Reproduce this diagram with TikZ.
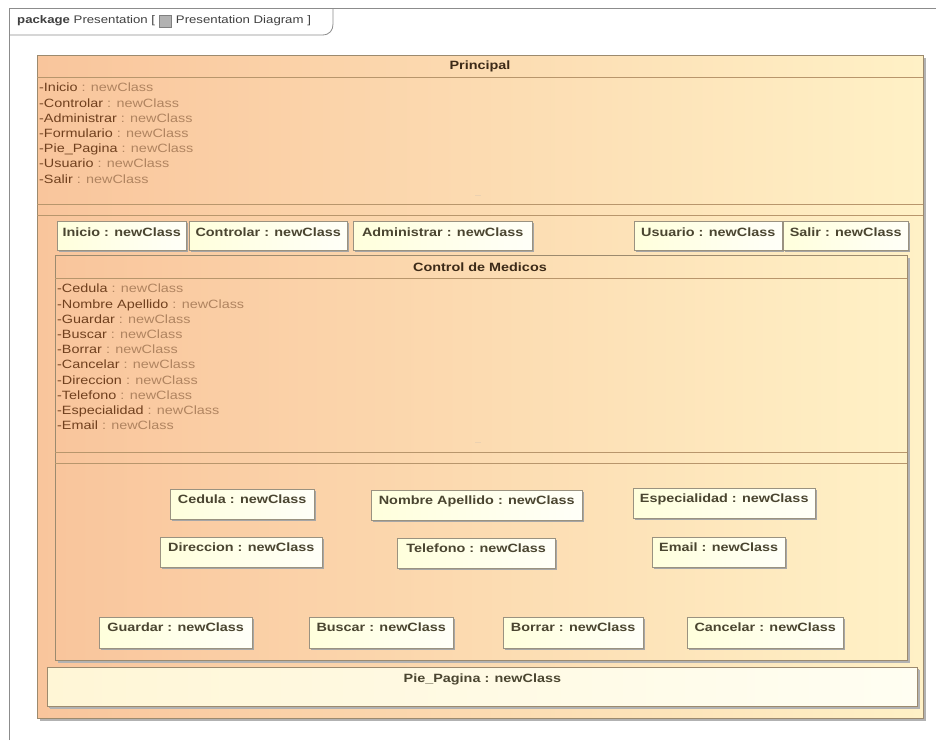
\documentclass[tikz,border=0pt]{standalone}
\usepackage{fontspec}
\setmainfont{Liberation Sans}[FakeStretch=1.2]
\usetikzlibrary{shadows,positioning}
\definecolor{peachL}{HTML}{F9C59C}
\definecolor{peachR}{HTML}{FFF1C6}
\definecolor{partL}{HTML}{FFFFDC}
\definecolor{partR}{HTML}{FFFFF8}
\definecolor{pieL}{HTML}{FFF6D6}
\definecolor{pieR}{HTML}{FFFEF2}
\definecolor{boxline}{HTML}{9C8A6E}
\definecolor{sepline}{HTML}{B8966C}
\definecolor{partline}{HTML}{9A9280}
\definecolor{attrname}{HTML}{70401E}
\definecolor{attrtype}{HTML}{B08460}
\definecolor{parttext}{HTML}{4A4530}
\definecolor{titletext}{HTML}{3C2A18}
\newcommand\attrline[1]{{\color{attrname}-#1} {\color{attrtype}: newClass}}
\begin{document}
\begin{tikzpicture}[x=1pt,y=-1pt,
  classbox/.style={draw=boxline,line width=0.8pt,left color=peachL,right color=peachR,anchor=north west,inner sep=0pt,
    drop shadow={shadow xshift=2.5pt,shadow yshift=-2.5pt,fill=black!30,opacity=1}},
  piebox/.style={classbox,left color=pieL,right color=pieR},
  classtitle/.style={font=\fontsize{12}{14}\selectfont\bfseries,text=titletext},
  attrs/.style={anchor=north west,align=left,inner sep=2pt,font=\fontsize{12}{15.2}\selectfont},
  part/.style={draw=partline,left color=partL,right color=partR,anchor=north west,
    font=\fontsize{12}{14}\selectfont\bfseries,text=parttext,inner xsep=4pt,inner ysep=3pt,
    text height=11.5pt,text depth=#1,
    drop shadow={shadow xshift=2pt,shadow yshift=-2pt,fill=black!35,opacity=1}},
  part/.default=12.5pt,
  sep/.style={draw=sepline,line width=0.8pt},
  dots/.style={font=\fontsize{6}{6}\selectfont,text=black!30,inner sep=0pt},
  frame/.style={draw=black!45,line width=0.8pt},
  pkg/.style={font=\fontsize{11}{13}\selectfont,text=black!75,inner sep=1pt}]
\useasboundingbox (0,0) rectangle (936,740);
\fill[white] (0,0) rectangle (936,740);
\draw[frame] (9,740) -- (9,8) -- (936,8);
\draw[frame] (9,35) -- (322,35) .. controls (330,35) and (333,30) .. (333,24) -- (333,8);
\node[pkg,anchor=west] (pkgname) at (16,21) {\textbf{package} Presentation [};
\node[draw=black!50,fill=black!30,minimum width=12pt,minimum height=12pt,inner sep=0pt,right=3pt of pkgname] (pkgicon) {};
\node[pkg,right=3pt of pkgicon] (pkgdiagram) {Presentation Diagram ]};
\node[classbox,minimum width=886,minimum height=663] (princ) at (37,55) {};
\node[classtitle] (princtitle) at (480,66) {Principal};
\draw[sep] (37,77) -- (923,77);
\node[attrs] (princattrs) at (37,81) {\attrline{Inicio}\\ \attrline{Controlar}\\ \attrline{Administrar}\\ \attrline{Formulario}\\ \attrline{Pie\_Pagina}\\ \attrline{Usuario}\\ \attrline{Salir}};
\node[dots] (princdots) at (478,196) {...};
\draw[sep] (37,204) -- (923,204);
\draw[sep] (37,215) -- (923,215);
\node[part=10.5pt,minimum width=129,text height=12.5pt] (inicio) at (57,221) {Inicio : newClass};
\node[part=10.5pt,minimum width=158,text height=12.5pt] (controlar) at (189,221) {Controlar : newClass};
\node[part=10.5pt,minimum width=179,text height=12.5pt] (admin) at (353,221) {Administrar : newClass};
\node[part=10.5pt,minimum width=148,text height=12.5pt] (usuario) at (634,221) {Usuario : newClass};
\node[part=10.5pt,minimum width=125,text height=12.5pt] (salir) at (783,221) {Salir : newClass};
\node[classbox,minimum width=852,minimum height=405] (medicos) at (55,255) {};
\node[classtitle] (medicostitle) at (480,267) {Control de Medicos};
\draw[sep] (55,278) -- (907,278);
\node[attrs] (medicosattrs) at (55,282) {\attrline{Cedula}\\ \attrline{Nombre Apellido}\\ \attrline{Guardar}\\ \attrline{Buscar}\\ \attrline{Borrar}\\ \attrline{Cancelar}\\ \attrline{Direccion}\\ \attrline{Telefono}\\ \attrline{Especialidad}\\ \attrline{Email}};
\node[dots] (medicosdots) at (478,443) {...};
\draw[sep] (55,452) -- (907,452);
\draw[sep] (55,463) -- (907,463);
\node[part,minimum width=144] (cedula) at (170,489) {Cedula : newClass};
\node[part,minimum width=211] (nombre) at (371,490) {Nombre Apellido : newClass};
\node[part,minimum width=182] (especial) at (633,488) {Especialidad : newClass};
\node[part,minimum width=162] (direccion) at (160,537) {Direccion : newClass};
\node[part,minimum width=158] (telefono) at (397,538) {Telefono : newClass};
\node[part,minimum width=133] (email) at (652,537) {Email : newClass};
\node[part=13.5pt,minimum width=153] (guardar) at (99,617) {Guardar : newClass};
\node[part=13.5pt,minimum width=144] (buscar) at (309,617) {Buscar : newClass};
\node[part=13.5pt,minimum width=140] (borrar) at (503,617) {Borrar : newClass};
\node[part=13.5pt,minimum width=156] (cancelar) at (687,617) {Cancelar : newClass};
\node[part=23.5pt,piebox,minimum width=870,text height=15.5pt] (pie) at (47,667) {Pie\_Pagina : newClass};
\end{tikzpicture}
\end{document}
